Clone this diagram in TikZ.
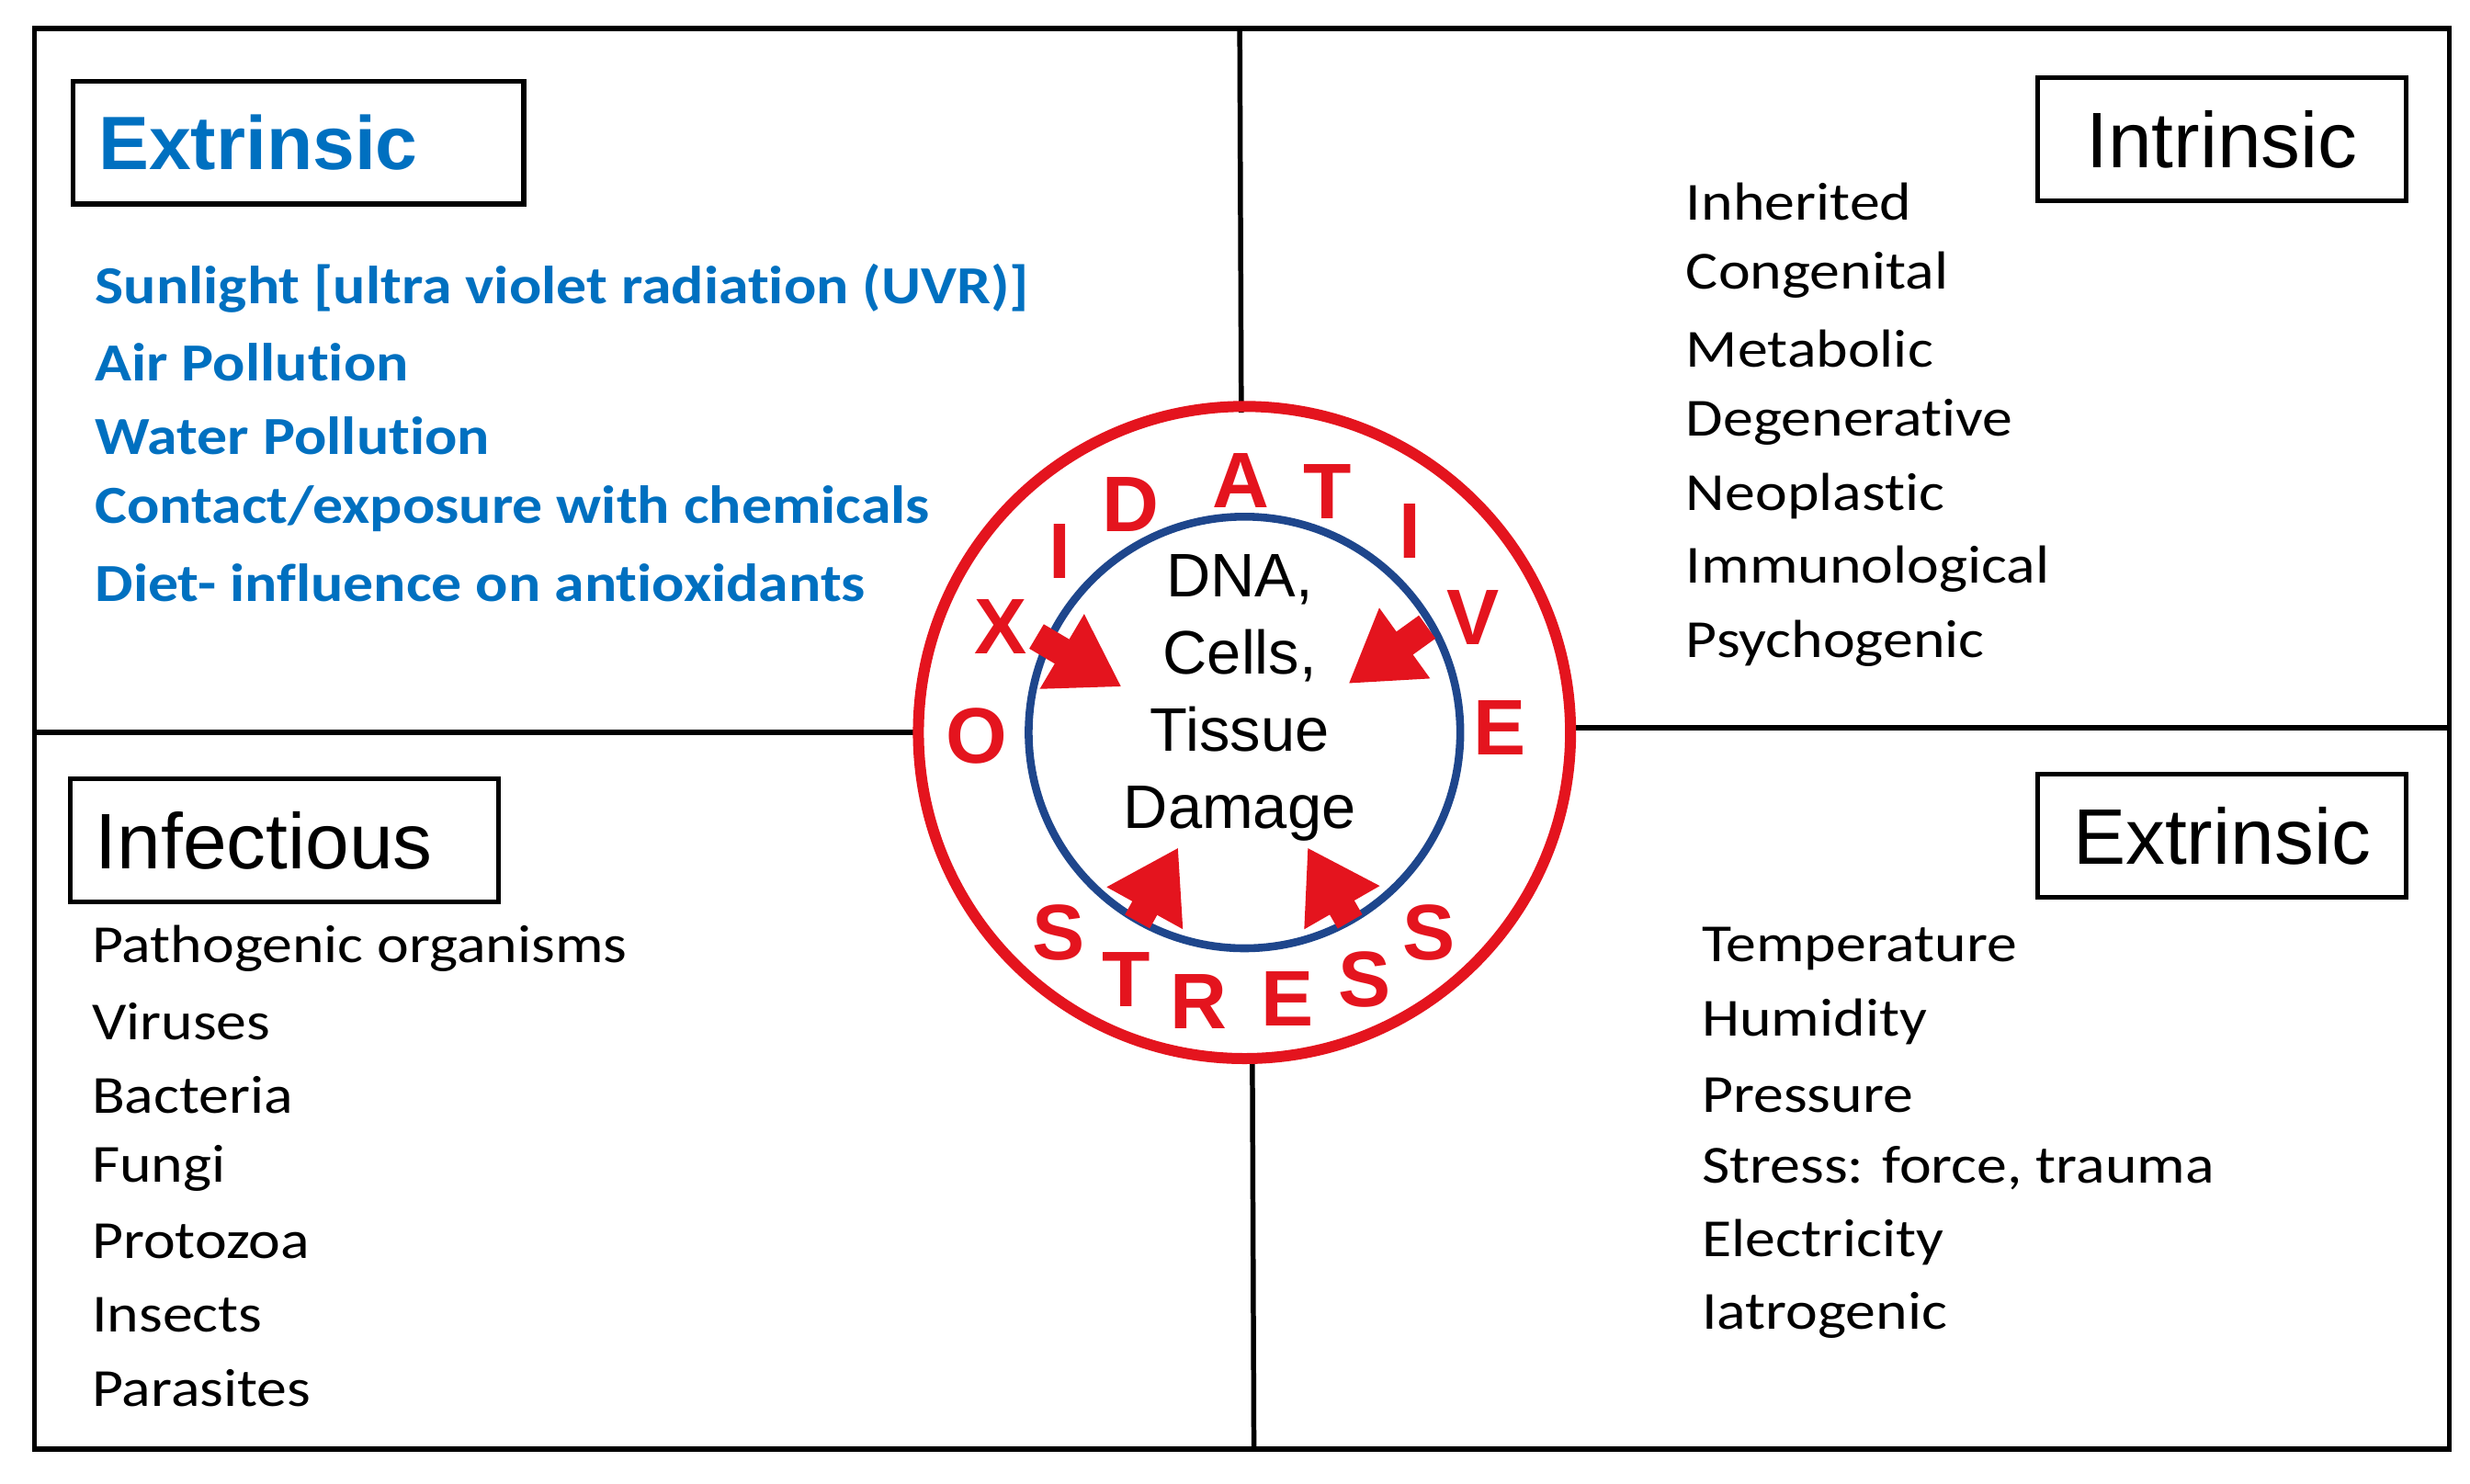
\documentclass[tikz,border=0pt]{standalone}
\usepackage{fontspec}
\setmainfont[Ligatures={NoCommon},FakeStretch=1.13]{Carlito}
\newfontfamily\arialf{Liberation Sans}
\usetikzlibrary{arrows.meta}
\definecolor{tblue}{RGB}{0,112,192}
\definecolor{tred}{RGB}{228,20,30}
\definecolor{cblue}{RGB}{30,70,140}
\begin{document}
\begin{tikzpicture}[x=0.5pt,y=-0.5pt,
  hdr/.style={draw,line width=1.5pt,anchor=north west,inner xsep=8pt,inner ysep=0pt,font=\arialf\fontsize{25}{30}\selectfont},
  item/.style={anchor=west,inner sep=0pt,font=\fontsize{17}{20}\selectfont},
  bitem/.style={item,text=tblue,font=\bfseries\fontsize{17}{20}\selectfont},
  lt/.style={text=tred,font=\arialf\bfseries\fontsize{25}{28}\selectfont,inner sep=0pt},
  rarr/.style={tred,line width=9pt,-{Triangle[length=22pt,width=26pt]}},
  ln/.style={line width=1.6pt}]
\useasboundingbox (0,0) rectangle (1568,942);
\fill[white] (0,0) rectangle (1568,942);
\draw[ln] (22,18) rectangle (1555,920);
\coordinate (c) at (790,465);
\draw[ln] (787,18) -- (788,262);
\draw[ln] (795,672) -- (796,920);
\draw[ln] (22,465) -- (583,465);
\draw[ln] (998,462) -- (1555,462);
\draw[tred,line width=3.5pt] (c) circle[radius=207];
\draw[cblue,line width=2.5pt] (c) circle[radius=137];
% headers
\node[hdr,text width=127pt,align=left,minimum height=39pt,text=tblue,font=\arialf\bfseries\fontsize{24}{30}\selectfont] (h1) at (45,50) {Extrinsic};
\node[hdr,minimum width=117pt,minimum height=39pt] (h2) at (1292,48) {Intrinsic};
\node[hdr,text width=120pt,align=left,minimum height=39pt] (h3) at (43,493) {Infectious};
\node[hdr,minimum width=117pt,minimum height=39pt] (h4) at (1292,490) {Extrinsic};
% lists
\foreach \t [count=\i] in {Sunlight [ultra violet radiation (UVR)],Air Pollution,Water Pollution,Contact/exposure with chemicals,Diet- influence on antioxidants}
  \node[bitem] (a\i) at (60,{183+46.7*(\i-1)}) {\t};
\foreach \t [count=\i] in {Inherited,Congenital,Metabolic,Degenerative,Neoplastic,Immunological,Psychogenic}
  \node[item] (b\i) at (1070,{128+46.7*(\i-1)}) {\t};
\foreach \t [count=\i] in {Pathogenic organisms,Viruses,Bacteria,Fungi,Protozoa,Insects,Parasites}
  \node[item] (d\i) at (58,{602+46.5*(\i-1)}) {\t};
\foreach \t [count=\i] in {Temperature,Humidity,Pressure,{Stress: force, trauma},Electricity,Iatrogenic}
  \node[item] (e\i) at (1080,{602+46.6*(\i-1)}) {\t};
% ring letters
\node[lt] (l1) at (620,467) {O};
\node[lt] (l2) at (635,398) {X};
\node[lt] (l3) at (673,350) {I};
\node[lt] (l4) at (718,320) {D};
\node[lt] (l5) at (788,305) {A};
\node[lt] (l6) at (843,312) {T};
\node[lt] (l7) at (895,337) {I};
\node[lt] (l8) at (935,392) {V};
\node[lt] (l9) at (952,462) {E};
\node[lt] (s1) at (672,592) {S};
\node[lt] (s2) at (715,622) {T};
\node[lt] (s3) at (761,636) {R};
\node[lt] (s4) at (817,634) {E};
\node[lt] (s5) at (866,622) {S};
\node[lt] (s6) at (907,592) {S};
% centre
\node[align=center,inner sep=0pt,font=\arialf\fontsize{19.5}{24.5}\selectfont] (ct) at (787,443) {DNA,\\Cells,\\Tissue\\Damage};
% arrows
\coordinate (p1) at (658,404); \coordinate (q1) at (712,436);
\coordinate (p2) at (906,398); \coordinate (q2) at (856,434);
\coordinate (p3) at (722,585); \coordinate (q3) at (748,538);
\coordinate (p4) at (857,585); \coordinate (q4) at (830,538);
\draw[rarr] (p1) -- (q1);
\draw[rarr] (p2) -- (q2);
\draw[rarr] (p3) -- (q3);
\draw[rarr] (p4) -- (q4);
\end{tikzpicture}
\end{document}
